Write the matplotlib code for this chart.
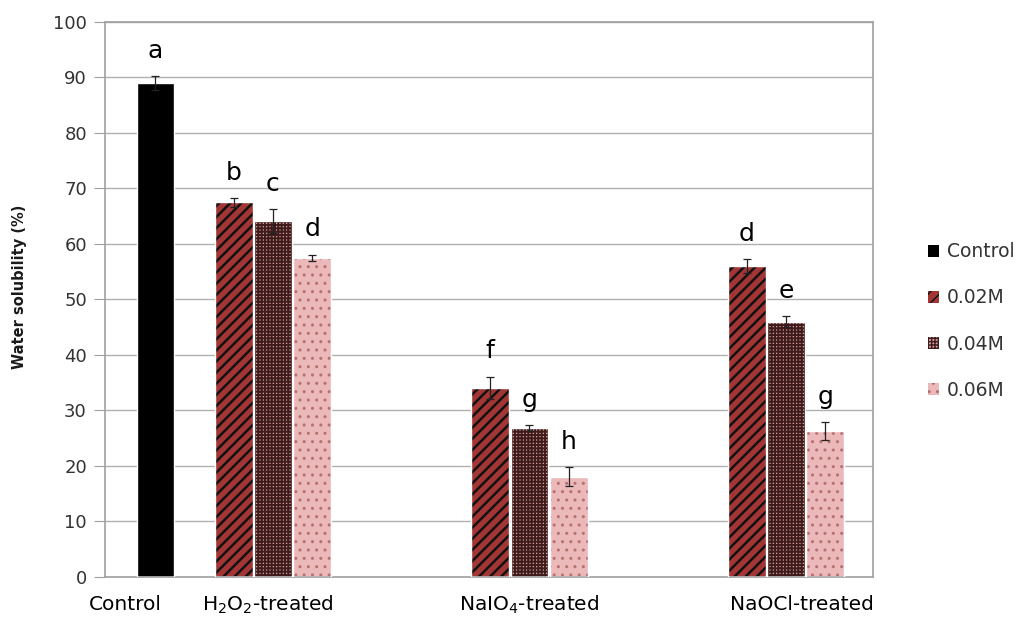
import numpy as np
import matplotlib
matplotlib.use('Agg')
import matplotlib.pyplot as plt
from matplotlib.patches import Patch
import matplotlib.transforms as mtrans

plt.rcParams['font.family'] = ['DejaVu Sans']

# data
groups = ['Control', 'H$_2$O$_2$-treated', 'NaIO$_4$-treated', 'NaOCl-treated']
series = ['Control', '0.02M', '0.04M', '0.06M']
control_val = 89.0
control_err = 1.2
conc_vals = {
    '0.02M': [67.5, 34.1, 56.0],
    '0.04M': [64.1, 26.8, 46.0],
    '0.06M': [57.5, 18.1, 26.3],
}
conc_errs = {
    '0.02M': [0.8, 2.0, 1.3],
    '0.04M': [2.2, 0.5, 1.0],
    '0.06M': [0.6, 1.7, 1.6],
}
control_letter = 'a'
conc_letters = {
    '0.02M': ['b', 'f', 'd'],
    '0.04M': ['c', 'g', 'e'],
    '0.06M': ['d', 'h', 'g'],
}

# layout / style
group_x = np.array([0.542, 1.0, 2.0, 3.0])
offsets = {'0.02M': -0.153, '0.04M': 0.0, '0.06M': 0.153}
width = 0.148
styles = {
    'Control': dict(face='black', hcol='black', hatch=None, hlw=1.0),
    '0.02M': dict(face='#a33535', hcol='#111111', hatch='///', hlw=1.8),
    '0.04M': dict(face='#d39999', hcol='#3e1c1c', hatch='+++++', hlw=1.4),
    '0.06M': dict(face='#ebb9b9', hcol='#b86f6f', hatch='..', hlw=1.0),
}
label_shift_px = [-30, -5, 0, 16]

fig = plt.figure(figsize=(10.21, 6.21), dpi=100)
ax = fig.add_axes([0.1028, 0.0709, 0.7522, 0.8937])


def draw_bars(x, vals, errs, name):
    st = styles[name]
    bars = ax.bar(x, vals, width, color=st['face'], edgecolor=st['hcol'],
                  hatch=st['hatch'], linewidth=0, zorder=2)
    for b in bars:
        if hasattr(b, 'set_hatch_linewidth'):
            b.set_hatch_linewidth(st['hlw'])
    ax.bar(x, vals, width, fill=False, edgecolor='white', linewidth=1.0, zorder=3)
    ax.errorbar(x, vals, yerr=errs, fmt='none', ecolor='#222222',
                elinewidth=0.9, capsize=3.2, capthick=0.9, zorder=4)


draw_bars([group_x[0]], [control_val], [control_err], 'Control')
ax.text(group_x[0], control_val + control_err + 3.3, control_letter,
        ha='center', va='baseline', fontsize=18, color='black')

for name in ['0.02M', '0.04M', '0.06M']:
    xs = group_x[1:] + offsets[name]
    draw_bars(xs, conc_vals[name], conc_errs[name], name)
    for xx, v, e, let in zip(xs, conc_vals[name], conc_errs[name], conc_letters[name]):
        ax.text(xx, v + e + 3.3, let, ha='center', va='baseline', fontsize=18, color='black')

ax.set_xlim(0.345, 3.339)
ax.set_ylim(0, 100)
ax.set_yticks(np.arange(0, 101, 10))
ax.tick_params(axis='y', length=8, color='#a0a0a0', labelsize=13,
               labelcolor='#333333', pad=5)
ax.set_xticks([])
ax.yaxis.grid(True, color='#b0b0b0', linewidth=1.0)
ax.set_axisbelow(True)
for sp in ax.spines.values():
    sp.set_color('#a0a0a0')
    sp.set_linewidth(1.2)

ax.set_ylabel('Water solubility (%)', fontsize=10.5, fontweight='bold',
              color='#1a1a1a')
ax.yaxis.set_label_coords(-0.102, 0.523)

# category labels below the axis
for gx, lab, sh in zip(group_x, groups, label_shift_px):
    tr = ax.get_xaxis_transform() + mtrans.ScaledTranslation(sh / 100, 0, fig.dpi_scale_trans)
    ax.text(gx, -0.05, lab, transform=tr, ha='center', va='center',
            fontsize=14.5, color='black', clip_on=False)

handles = [Patch(facecolor=styles[s]['face'], edgecolor=styles[s]['hcol'],
                 hatch=styles[s]['hatch'], linewidth=0, label=s) for s in series]
leg = fig.legend(handles=handles, loc='center left',
                 bbox_to_anchor=(911 / 1021, 1 - 321 / 621), frameon=False,
                 fontsize=13.5, labelspacing=1.45, handlelength=0.6,
                 handleheight=0.6, handletextpad=0.4, labelcolor='#333333')

fig.savefig('out.png', dpi=100)
